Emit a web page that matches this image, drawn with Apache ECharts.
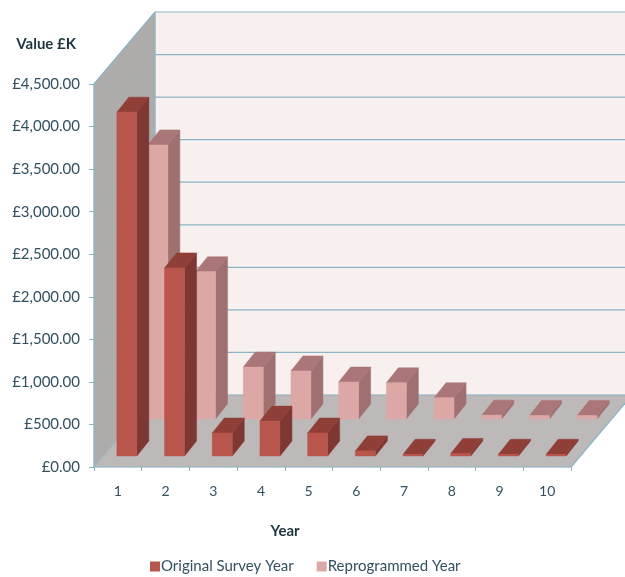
<!DOCTYPE html>
<html>
<head>
<meta charset="utf-8">
<style>html,body{margin:0;padding:0;background:#fff}#chart{width:625px;height:577px}</style>
<script src="https://cdn.jsdelivr.net/npm/echarts@6/dist/echarts.min.js"></script>
</head>
<body>
<div id="chart"></div>
<script>
// Survey spend per year, in £K
const years = ['1', '2', '3', '4', '5', '6', '7', '8', '9', '10'];
const originalSurveyYear = [4040, 2210, 270, 410, 270, 60, 20, 30, 20, 20];
const reprogrammedYear = [3220, 1730, 610, 565, 435, 425, 250, 45, 40, 40];
const valueTicks = [0, 500, 1000, 1500, 2000, 2500, 3000, 3500, 4000, 4500];

// Oblique projection of the box: how far the back wall sits from the front plane
const BOX_DX = 61, BOX_DY = -72;
const AXIS_COLOR = '#8db4c6', TEXT_COLOR = '#33505f', FONT = 'Lato';

const poly = (points, fill, stroke) => ({
  type: 'polygon',
  shape: { points },
  style: { fill, stroke: stroke || fill, lineWidth: stroke ? 1 : 0.5 },
  silent: true
});
const line = (a, b, stroke, lineWidth) => ({
  type: 'line',
  shape: { x1: a[0], y1: a[1], x2: b[0], y2: b[1] },
  style: { stroke, lineWidth: lineWidth || 1.2 },
  silent: true
});

// Floor, side wall and back wall with their grid lines
function renderBox(params, api) {
  const rect = params.coordSys;
  const x0 = rect.x, x1 = rect.x + rect.width;
  const yZero = api.coord([0, 0])[1];
  const yTop = api.coord([0, valueTicks[valueTicks.length - 1]])[1];
  const children = [
    poly([[x0 + BOX_DX, yTop + BOX_DY], [x1 + BOX_DX, yTop + BOX_DY], [x1 + BOX_DX, yZero + BOX_DY], [x0 + BOX_DX, yZero + BOX_DY]], '#f8f0ee'),
    poly([[x0, yTop], [x0 + BOX_DX, yTop + BOX_DY], [x0 + BOX_DX, yZero + BOX_DY], [x0, yZero]], '#aeacab'),
    poly([[x0, yZero], [x1, yZero], [x1 + BOX_DX, yZero + BOX_DY], [x0 + BOX_DX, yZero + BOX_DY]], '#bdb9b9')
  ];
  valueTicks.forEach(v => {
    const y = api.coord([0, v])[1];
    children.push(line([x0 + BOX_DX, y + BOX_DY], [x1 + BOX_DX, y + BOX_DY], AXIS_COLOR));
    if (v > 0 && v < valueTicks[valueTicks.length - 1]) {
      children.push(line([x0, y], [x0 + BOX_DX, y + BOX_DY], 'rgba(141,180,198,0.22)', 1));
    }
  });
  children.push(
    line([x0, yTop], [x0, yZero], AXIS_COLOR),
    line([x0, yTop], [x0 + BOX_DX, yTop + BOX_DY], AXIS_COLOR),
    line([x0 + BOX_DX, yTop + BOX_DY], [x0 + BOX_DX, yZero + BOX_DY], AXIS_COLOR),
    line([x0, yZero], [x0 + BOX_DX, yZero + BOX_DY], 'rgba(141,180,198,0.6)'),
    line([x0, yZero], [x1, yZero], AXIS_COLOR),
    line([x1, yZero], [x1 + BOX_DX, yZero + BOX_DY], AXIS_COLOR)
  );
  return { type: 'group', children };
}

// One cuboid per data item; the row setting says how deep it stands in the box
function cuboid(row, colors) {
  return function (params, api) {
    const base = api.coord([api.value(0), 0]);
    const top = api.coord([api.value(0), api.value(1)]);
    const half = 10, dx = 12, dy = -15;
    const l = base[0] + row.dx - half, r = base[0] + row.dx + half;
    const b = base[1] + row.dy;
    const t = top[1] + row.dy;
    return {
      type: 'group',
      children: [
        poly([[r, b], [r + dx, b + dy], [r + dx, t + dy], [r, t]], colors.side),
        poly([[l, t], [r, t], [r + dx, t + dy], [l + dx, t + dy]], colors.top),
        poly([[l, b], [r, b], [r, t], [l, t]], colors.front)
      ]
    };
  };
}

const rows = [
  { name: 'Reprogrammed Year', values: reprogrammedYear, row: { dx: 40, dy: -48 },
    colors: { front: '#dca8a6', side: '#9f7070', top: '#ab7677' } },
  { name: 'Original Survey Year', values: originalSurveyYear, row: { dx: 9, dy: -11 },
    colors: { front: '#b9564c', side: '#7e3732', top: '#8f3f38' } }
];

const chart = echarts.init(document.getElementById('chart'), null, { renderer: 'canvas' });
chart.setOption({
  animation: false,
  backgroundColor: '#fff',
  textStyle: { fontFamily: FONT },
  grid: { left: 94, right: 54, top: 84, bottom: 110, containLabel: false },
  legend: {
    data: ['Original Survey Year', 'Reprogrammed Year'],
    left: 145, top: 554,
    icon: 'rect', itemWidth: 10, itemHeight: 10, itemGap: 23,
    textStyle: { fontFamily: FONT, fontSize: 15, color: TEXT_COLOR, padding: [0, 0, 0, -4] }
  },
  xAxis: {
    type: 'category',
    data: years,
    name: 'Year',
    nameLocation: 'middle',
    nameGap: 57,
    nameTextStyle: { fontFamily: FONT, fontSize: 15, fontWeight: 'bold', color: '#1f3540', padding: [0, 95, 0, 0] },
    axisLine: { show: false },
    axisTick: { show: true, length: 4, alignWithLabel: false, lineStyle: { color: AXIS_COLOR } },
    axisLabel: { fontFamily: FONT, fontSize: 14, color: TEXT_COLOR, margin: 17 }
  },
  yAxis: {
    type: 'value',
    min: 0, max: 4500, interval: 500,
    name: 'Value £K',
    nameLocation: 'end',
    nameGap: 32,
    nameTextStyle: { fontFamily: FONT, fontSize: 15, fontWeight: 'bold', color: '#1f3540', align: 'right', padding: [0, 18, 0, 0] },
    axisLine: { show: false },
    axisTick: { show: true, length: 5, lineStyle: { color: AXIS_COLOR } },
    splitLine: { show: false },
    axisLabel: {
      fontFamily: FONT, fontSize: 15, color: TEXT_COLOR, margin: 14,
      formatter: v => '£' + v.toLocaleString('en-GB', { minimumFractionDigits: 2, maximumFractionDigits: 2 })
    }
  },
  series: [
    { type: 'custom', name: 'box', silent: true, data: [[0, 0]], renderItem: renderBox, encode: { x: 0, y: 1 }, z: 1 }
  ].concat(rows.map(s => ({
    type: 'custom',
    name: s.name,
    itemStyle: { color: s.colors.front },
    data: s.values.map((v, i) => [i, v]),
    encode: { x: 0, y: 1 },
    renderItem: cuboid(s.row, s.colors),
    z: 2
  })))
});
</script>
</body>
</html>
